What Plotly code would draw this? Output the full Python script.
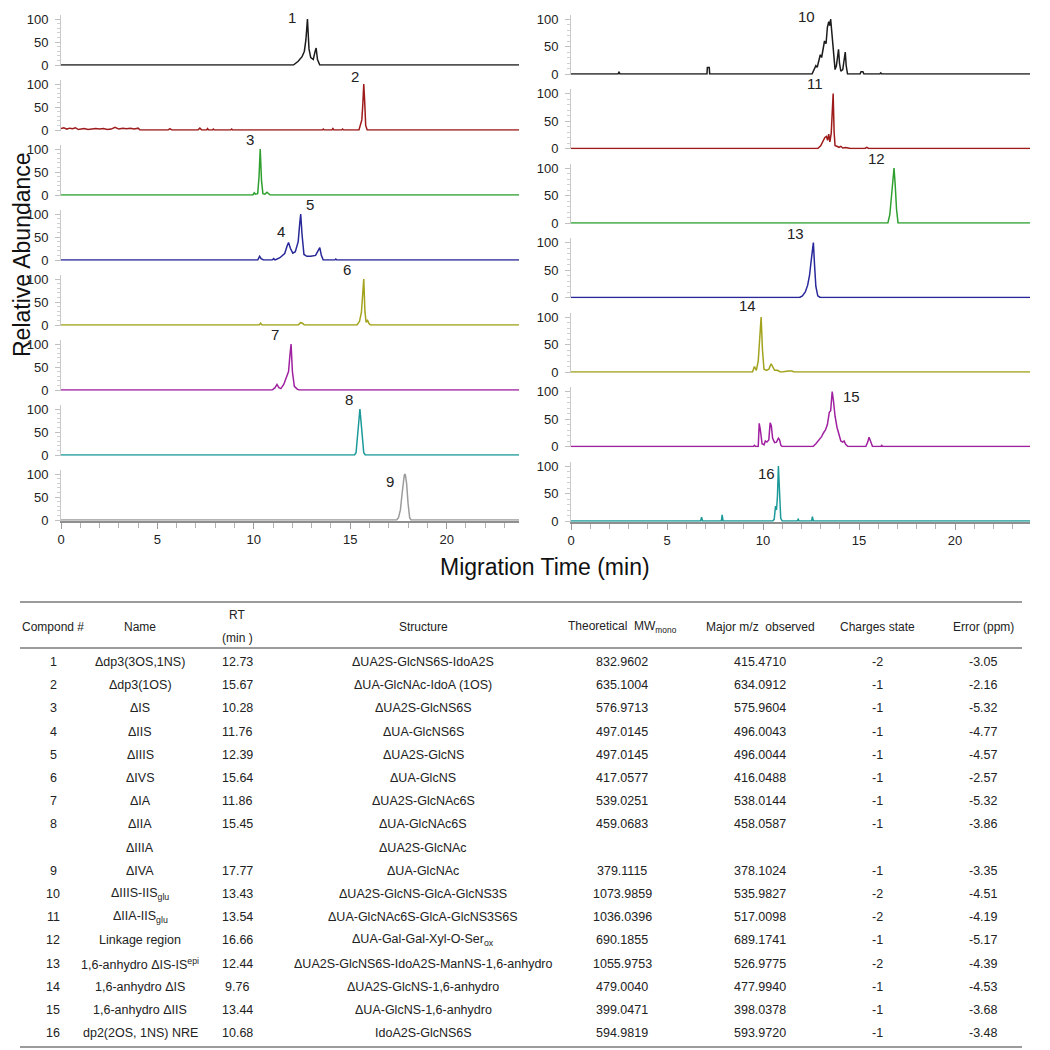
import plotly.graph_objects as go

# ---------------- chromatogram data (migration time in min, relative abundance) ----------------
t1 = [0, 12.05, 12.3, 12.5, 12.62, 12.7, 12.78, 12.86, 12.95, 13.08, 13.18, 13.23, 13.3, 13.42, 23.75]
a1 = [0, 0, 8, 18, 30, 55, 100, 35, 16, 12, 30, 37, 12, 0, 0]

t2 = [0, 0.15, 0.3, 0.45, 0.6, 0.75, 0.9, 1.05, 1.2, 1.4, 1.6, 1.8, 2.0, 2.2, 2.4, 2.6, 2.8, 3.0, 3.2,
      3.4, 3.6, 3.8, 4.0, 4.1, 5.55, 5.65, 5.75, 7.1, 7.2, 7.3, 7.55, 7.6, 7.65, 7.85, 7.9, 7.95,
      8.8, 8.85, 8.9, 13.55, 13.6, 13.65, 14.05, 14.1, 14.15, 14.55, 14.6, 14.65, 15.45, 15.55,
      15.6, 15.65, 15.7, 15.75, 15.8, 15.88, 23.75]
a2 = [3, 5, 2, 4, 3, 5, 1, 2, 3, 1, 2, 3, 2, 3, 1, 2, 6, 2, 4, 3, 4, 2, 4, 0, 0, 3, 0, 0, 4, 0,
      0, 3, 0, 0, 2, 0, 0, 2, 0, 0, 2, 0, 0, 3, 0, 0, 2, 0, 0, 12, 22, 55, 100, 60, 10, 0, 0]

t3 = [0, 9.95, 10.02, 10.08, 10.2, 10.27, 10.33, 10.4, 10.47, 10.58, 10.68, 10.75, 10.85, 23.75]
a3 = [0, 0, 5, 2, 3, 40, 100, 30, 3, 2, 6, 4, 0, 0]

t45 = [0, 10.2, 10.3, 10.38, 10.5, 10.95, 11.03, 11.1, 11.35, 11.6, 11.72, 11.8, 11.9, 12.02, 12.15,
       12.3, 12.38, 12.43, 12.5, 12.6, 12.75, 12.95, 13.2, 13.32, 13.42, 13.5, 13.6, 14.2, 14.25,
       14.3, 23.75]
a45 = [0, 0, 8, 3, 0, 0, 3, 0, 5, 14, 30, 38, 25, 15, 18, 40, 80, 100, 55, 12, 8, 8, 10, 18, 27,
       10, 0, 0, 2, 0, 0]

t6 = [0, 10.28, 10.35, 10.42, 12.3, 12.42, 12.52, 12.62, 15.35, 15.48, 15.58, 15.65, 15.7, 15.76,
      15.82, 15.9, 15.97, 16.05, 23.75]
a6 = [0, 0, 4, 0, 0, 5, 4, 0, 0, 8, 28, 60, 100, 30, 6, 10, 3, 0, 0]

t7 = [0, 10.95, 11.1, 11.2, 11.3, 11.4, 11.55, 11.7, 11.8, 11.87, 11.93, 12.0, 12.1, 12.25, 12.35, 23.75]
a7 = [0, 0, 5, 12, 5, 3, 12, 30, 40, 75, 100, 40, 8, 2, 0, 0]

t8 = [0, 15.22, 15.3, 15.38, 15.45, 15.5, 15.56, 15.63, 15.7, 15.78, 23.75]
a8 = [0, 0, 5, 40, 75, 100, 72, 30, 5, 0, 0]

t9 = [0, 17.4, 17.5, 17.6, 17.7, 17.8, 17.85, 17.92, 18.0, 18.08, 18.15, 23.75]
a9 = [0, 0, 5, 22, 62, 97, 100, 80, 35, 5, 0, 0]

t10 = [0, 2.45, 2.5, 2.55, 7.08, 7.1, 7.2, 7.22, 12.55, 12.65, 12.75, 12.82, 12.9, 12.98, 13.05,
       13.12, 13.2, 13.28, 13.35, 13.42, 13.47, 13.52, 13.57, 13.62, 13.68, 13.75, 13.82, 13.88,
       13.93, 13.98, 14.05, 14.15, 14.22, 14.28, 14.33, 14.4, 14.5, 15.05, 15.1, 15.2, 15.25,
       16.08, 16.13, 16.18, 23.9]
a10 = [0, 0, 3, 0, 0, 12, 12, 0, 0, 8, 15, 12, 25, 35, 30, 45, 60, 55, 85, 95, 88, 100, 80, 55,
       25, 8, 15, 40, 45, 20, 5, 8, 30, 40, 15, 0, 0, 0, 4, 4, 0, 0, 2, 0, 0]

t11 = [0, 12.85, 13.0, 13.12, 13.22, 13.3, 13.36, 13.42, 13.48, 13.55, 13.6, 13.65, 13.7, 13.75,
       13.85, 13.95, 14.05, 14.15, 14.3, 14.45, 14.55, 15.3, 15.4, 15.5, 23.9]
a11 = [0, 0, 5, 12, 20, 22, 15, 26, 12, 28, 60, 100, 30, 5, 4, 2, 4, 1, 2, 1, 0, 0, 2, 0, 0]

t12 = [0, 16.5, 16.6, 16.68, 16.75, 16.82, 16.88, 16.95, 17.03, 23.9]
a12 = [0, 0, 15, 50, 85, 100, 70, 25, 0, 0]

t13 = [0, 11.9, 12.05, 12.2, 12.32, 12.42, 12.5, 12.57, 12.62, 12.68, 12.75, 12.85, 12.98, 23.9]
a13 = [0, 0, 3, 10, 22, 40, 65, 90, 100, 60, 20, 3, 0, 0]

t14 = [0, 9.45, 9.55, 9.65, 9.75, 9.83, 9.9, 9.97, 10.05, 10.18, 10.3, 10.42, 10.5, 10.6, 10.75,
       10.9, 11.0, 11.2, 11.3, 11.5, 11.6, 23.9]
a14 = [0, 0, 10, 3, 20, 70, 100, 40, 5, 3, 5, 15, 10, 3, 3, 0, 0, 2, 2, 2, 0, 0]

t15 = [0, 9.5, 9.55, 9.62, 9.75, 9.8, 9.86, 9.95, 10.05, 10.12, 10.2, 10.3, 10.37, 10.43, 10.5,
       10.6, 10.7, 10.8, 10.86, 10.93, 11.0, 12.6, 12.75, 12.9, 13.05, 13.15, 13.25, 13.35, 13.45,
       13.52, 13.6, 13.66, 13.75, 13.85, 13.95, 14.05, 14.15, 14.22, 14.3, 14.42, 15.35, 15.45,
       15.52, 15.6, 15.7, 16.13, 16.18, 16.23, 23.9]
a15 = [0, 0, 2, 0, 0, 42, 30, 5, 3, 10, 8, 12, 43, 38, 15, 7, 8, 15, 12, 2, 0, 0, 5, 12, 18, 25,
       30, 40, 62, 65, 100, 85, 55, 35, 20, 10, 8, 10, 4, 0, 0, 8, 17, 8, 0, 0, 2, 0, 0]

t16 = [0, 6.75, 6.8, 6.85, 7.83, 7.87, 7.92, 10.5, 10.58, 10.65, 10.7, 10.75, 10.8, 10.86, 10.92,
       11.0, 11.78, 11.83, 11.88, 12.53, 12.57, 12.62, 23.9]
a16 = [0, 0, 7, 0, 0, 11, 0, 0, 3, 27, 20, 45, 100, 40, 5, 0, 0, 3, 0, 0, 8, 0, 0]

# peak labels: (text, time, abundance)
labels_left = [[("1", 12.0, 104)], [("2", 15.27, 117)], [("3", 9.8, 120)],
               [("4", 11.43, 61), ("5", 12.9, 120)], [("6", 14.85, 120)], [("7", 11.09, 121)],
               [("8", 14.92, 121)], [("9", 17.08, 83)]]
labels_right = [[("10", 12.27, 104)], [("11", 12.71, 119)], [("12", 15.92, 118)],
                [("13", 11.67, 116)], [("14", 9.18, 120)], [("15", 14.62, 91)], [("16", 10.19, 86)]]

# ---------------- table data ----------------
tab_header = ["Compond #", "Name", "RT", "Structure", "Theoretical  MW<sub>mono</sub>",
              "Major m/z  observed", "Charges state", "Error (ppm)"]
comp_no = ["1", "2", "3", "4", "5", "6", "7", "8", "", "9", "10", "11", "12", "13", "14", "15", "16"]
comp_name = ["Δdp3(3OS,1NS)", "Δdp3(1OS)", "ΔIS", "ΔIIS", "ΔIIIS", "ΔIVS", "ΔIA", "ΔIIA", "ΔIIIA",
             "ΔIVA", "ΔIIIS-IIS<sub>glu</sub>", "ΔIIA-IIS<sub>glu</sub>", "Linkage region",
             "1,6-anhydro ΔIS-IS<sup>epi</sup>", "1,6-anhydro ΔIS", "1,6-anhydro ΔIIS", "dp2(2OS, 1NS) NRE"]
comp_rt = ["12.73", "15.67", "10.28", "11.76", "12.39", "15.64", "11.86", "15.45", "", "17.77",
           "13.43", "13.54", "16.66", "12.44", "9.76", "13.44", "10.68"]
comp_struct = ["ΔUA2S-GlcNS6S-IdoA2S", "ΔUA-GlcNAc-IdoA (1OS)", "ΔUA2S-GlcNS6S", "ΔUA-GlcNS6S",
               "ΔUA2S-GlcNS", "ΔUA-GlcNS", "ΔUA2S-GlcNAc6S", "ΔUA-GlcNAc6S", "ΔUA2S-GlcNAc",
               "ΔUA-GlcNAc", "ΔUA2S-GlcNS-GlcA-GlcNS3S", "ΔUA-GlcNAc6S-GlcA-GlcNS3S6S",
               "ΔUA-Gal-Gal-Xyl-O-Ser<sub>ox</sub>", "ΔUA2S-GlcNS6S-IdoA2S-ManNS-1,6-anhydro",
               "ΔUA2S-GlcNS-1,6-anhydro", "ΔUA-GlcNS-1,6-anhydro", "IdoA2S-GlcNS6S"]
comp_mw = ["832.9602", "635.1004", "576.9713", "497.0145", "497.0145", "417.0577", "539.0251",
           "459.0683", "", "379.1115", "1073.9859", "1036.0396", "690.1855", "1055.9753",
           "479.0040", "399.0471", "594.9819"]
comp_mz = ["415.4710", "634.0912", "575.9604", "496.0043", "496.0044", "416.0488", "538.0144",
           "458.0587", "", "378.1024", "535.9827", "517.0098", "689.1741", "526.9775",
           "477.9940", "398.0378", "593.9720"]
comp_charge = ["-2", "-1", "-1", "-1", "-1", "-1", "-1", "-1", "", "-1", "-2", "-2", "-1", "-2",
               "-1", "-1", "-1"]
comp_err = ["-3.05", "-2.16", "-5.32", "-4.77", "-4.57", "-2.57", "-5.32", "-3.86", "", "-3.35",
            "-4.51", "-4.19", "-5.17", "-4.39", "-4.53", "-3.68", "-3.48"]

# ---------------- layout helpers ----------------
W = H = 1050
OFF = 8  # page body margin
FONT = "Arial, Liberation Sans, sans-serif"


def px(x):
    return (x - OFF) / W


def py(y):
    return 1 - (y - OFF) / H


left_traces = [(t1, a1), (t2, a2), (t3, a3), (t45, a45), (t6, a6), (t7, a7), (t8, a8), (t9, a9)]
right_traces = [(t10, a10), (t11, a11), (t12, a12), (t13, a13), (t14, a14), (t15, a15), (t16, a16)]
left_colors = ["#1c1c1c", "#9e1b1b", "#2fa02f", "#28289a", "#a2a21c", "#a021a0", "#1c9a9a", "#9c9c9c"]
right_colors = ["#1c1c1c", "#9e1b1b", "#2fa02f", "#28289a", "#a2a21c", "#a021a0", "#1c9a9a"]

YLO, YHI = -1.5, 108

fig = go.Figure()
layout = dict()
annotations = []

panels = []
for k, (tr, col, labs) in enumerate(zip(left_traces, left_colors, labels_left)):
    panels.append(dict(t=tr[0], a=tr[1], color=col, labels=labs, x0=61, x1=519, xmax=23.75,
                       base=65 + 65 * k, scale=0.46, bottom=(k == len(left_traces) - 1)))
for k, (tr, col, labs) in enumerate(zip(right_traces, right_colors, labels_right)):
    panels.append(dict(t=tr[0], a=tr[1], color=col, labels=labs, x0=571, x1=1030, xmax=23.9,
                       base=74 + 74.5 * k, scale=0.55, bottom=(k == len(right_traces) - 1)))

for i, p in enumerate(panels):
    n = i + 1
    xa = "x" if n == 1 else f"x{n}"
    ya = "y" if n == 1 else f"y{n}"
    fig.add_trace(go.Scatter(x=p["t"], y=p["a"], mode="lines", xaxis=xa, yaxis=ya,
                             line=dict(color=p["color"], width=1.5), showlegend=False,
                             hoverinfo="skip"))
    ytop = p["base"] - YHI * p["scale"]
    ybot = p["base"] - YLO * p["scale"]
    xkey = "xaxis" if n == 1 else f"xaxis{n}"
    ykey = "yaxis" if n == 1 else f"yaxis{n}"
    xdict = dict(domain=[px(p["x0"]), px(p["x1"])], range=[0, p["xmax"]], anchor=ya,
                 showgrid=False, zeroline=False, automargin=False)
    if p["bottom"]:
        xdict.update(showline=True, linecolor="#8f8f8f", linewidth=2, ticks="outside",
                     ticklen=6, tickwidth=1, tickcolor="#9a9a9a",
                     tickvals=[0, 5, 10, 15, 20], ticktext=["0", "5", "10", "15", "20"],
                     tickfont=dict(size=13, color="#222", family=FONT),
                     minor=dict(dtick=1, tick0=0, ticks="outside", ticklen=5,
                                tickcolor="#b0b0b0", tickwidth=1))
    else:
        xdict.update(showline=False, showticklabels=False, ticks="")
    layout[xkey] = xdict
    layout[ykey] = dict(domain=[py(ybot), py(ytop)], range=[YLO, YHI], anchor=xa,
                        showgrid=False, zeroline=False, showline=True, linecolor="#c9c9c9",
                        linewidth=1, ticks="outside", ticklen=5, tickcolor="#c0c0c0",
                        tickvals=[0, 50, 100], tickfont=dict(size=13, color="#222", family=FONT),
                        ticklabelstandoff=4, automargin=False,
                        minor=dict(dtick=10, tick0=0, ticks="outside", ticklen=3,
                                   tickcolor="#d0d0d0", tickwidth=1))
    # peak labels placed through the panel's own time / abundance scale
    for (txt, lx, ly) in p["labels"]:
        xpix = p["x0"] + lx * (p["x1"] - p["x0"]) / p["xmax"]
        ypix = p["base"] - ly * p["scale"]
        annotations.append(dict(x=px(xpix), y=py(ypix), xref="paper", yref="paper", text=txt,
                                showarrow=False, xanchor="center", yanchor="middle",
                                font=dict(size=15, color="#222", family=FONT)))

# axis titles
annotations.append(dict(x=px(22), y=py(255), xref="paper", yref="paper", text="Relative Abundance",
                        showarrow=False, textangle=-90, xanchor="center", yanchor="middle",
                        font=dict(size=23, color="#111", family=FONT)))
annotations.append(dict(x=px(545), y=py(567), xref="paper", yref="paper",
                        text="Migration Time (min)", showarrow=False, xanchor="center",
                        yanchor="middle", font=dict(size=23, color="#111", family=FONT)))

# ---------------- table ----------------
col_x = [53, 140, 237, 423, 622, 760, 877, 983]
header_y = 627
for j, h in enumerate(tab_header):
    if h == "RT":
        annotations.append(dict(x=px(col_x[j]), y=py(615), xref="paper", yref="paper", text="RT",
                                showarrow=False, xanchor="center", yanchor="middle",
                                font=dict(size=12, color="#222", family=FONT)))
        annotations.append(dict(x=px(col_x[j]), y=py(638), xref="paper", yref="paper",
                                text="(min )", showarrow=False, xanchor="center",
                                yanchor="middle", font=dict(size=12, color="#222", family=FONT)))
    else:
        annotations.append(dict(x=px(col_x[j]), y=py(header_y), xref="paper", yref="paper",
                                text=h, showarrow=False, xanchor="center", yanchor="middle",
                                font=dict(size=12, color="#222", family=FONT)))

columns = [comp_no, comp_name, comp_rt, comp_struct, comp_mw, comp_mz, comp_charge, comp_err]
for r in range(len(comp_no)):
    yy = 662 + 23.2 * r
    for j, colvals in enumerate(columns):
        if colvals[r] == "":
            continue
        annotations.append(dict(x=px(col_x[j]), y=py(yy), xref="paper", yref="paper",
                                text=colvals[r], showarrow=False, xanchor="center",
                                yanchor="middle", font=dict(size=12.5, color="#222", family=FONT)))

shapes = []
for yy, w in [(602, 1.5), (648, 1.5), (1047, 1.5)]:
    shapes.append(dict(type="line", xref="paper", yref="paper", x0=px(20), x1=px(1022),
                       y0=py(yy), y1=py(yy), line=dict(color="#7a7a7a", width=w)))

fig.update_layout(**layout)
fig.update_layout(width=W, height=H, margin=dict(l=0, r=0, t=0, b=0, autoexpand=False),
                  paper_bgcolor="white", plot_bgcolor="white",
                  font=dict(family=FONT, color="#222"),
                  annotations=annotations, shapes=shapes, showlegend=False)

fig.write_html("out.html")
